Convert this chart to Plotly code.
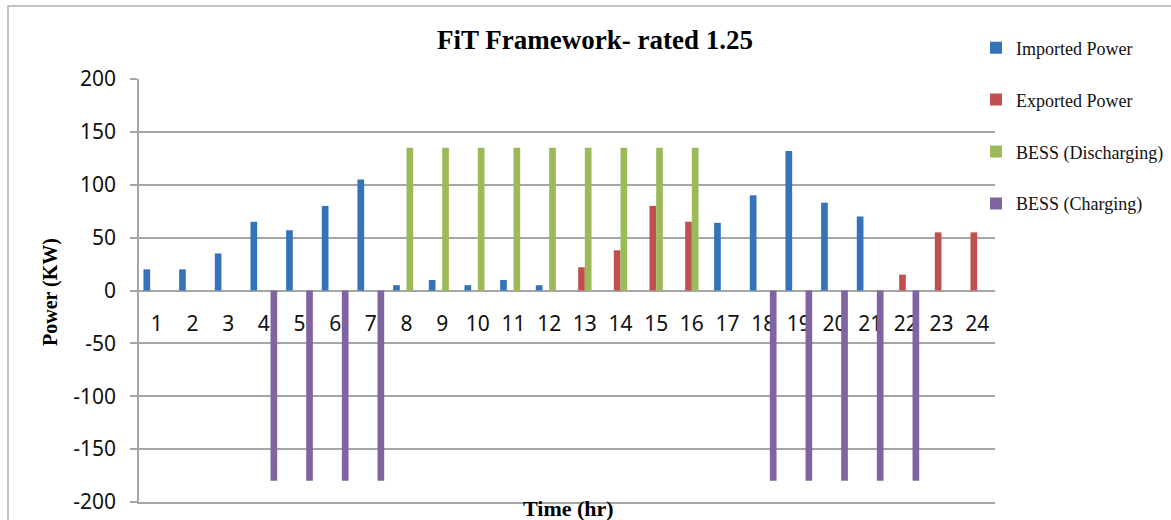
import plotly.graph_objects as go

# Hourly power flows under the FiT framework (rated 1.25)
hours = list(range(1, 25))
imported_power = [20, 20, 35, 65, 57, 80, 105, 5, 10, 5, 10, 5,
                  0, 0, 0, 0, 64, 90, 132, 83, 70, 0, 0, 0]
exported_power = [0, 0, 0, 0, 0, 0, 0, 0, 0, 0, 0, 0,
                  22, 38, 80, 65, 0, 0, 0, 0, 0, 15, 55, 55]
bess_discharging = [0, 0, 0, 0, 0, 0, 0, 135, 135, 135, 135, 135,
                    135, 135, 135, 135, 0, 0, 0, 0, 0, 0, 0, 0]
bess_charging = [0, 0, 0, -180, -180, -180, -180, 0, 0, 0, 0, 0,
                 0, 0, 0, 0, 0, -180, -180, -180, -180, -180, 0, 0]
y_ticks = [200, 150, 100, 50, 0, -50, -100, -150, -200]

series = [
    ("Imported Power", imported_power, "#3473BA"),
    ("Exported Power", exported_power, "#C0504D"),
    ("BESS (Discharging)", bess_discharging, "#9BBB59"),
    ("BESS (Charging)", bess_charging, "#8064A2"),
]

W, H = 1171, 520
ML, MR, MT, MB = 139, 176, 79, 18
PW, PH = W - ML - MR, H - MT - MB


def px(x):
    return (x - ML) / PW


def py(y):
    return (H - MB - y) / PH


fig = go.Figure()
for name, vals, color in series:
    fig.add_trace(go.Bar(
        x=hours, y=vals, name=name, legendgroup=name,
        marker=dict(color=color, line=dict(width=0)),
    ))

grid = "#A6A6A6"
serif = "Liberation Serif"
sans = "Noto Sans"

fig.update_layout(
    width=W, height=H,
    margin=dict(l=ML, r=MR, t=MT, b=MB, autoexpand=False),
    paper_bgcolor="white", plot_bgcolor="white",
    barmode="group", bargap=0.25, bargroupgap=0,
    showlegend=True,
    legend=dict(
        x=px(976), y=py(29.5), xanchor="left", yanchor="top",
        font=dict(family=serif, size=18, color="#111"),
        tracegroupgap=25.5, bgcolor="rgba(0,0,0,0)",
    ),
    xaxis=dict(
        range=[0.5, 24.5], tickmode="array", tickvals=hours,
        ticktext=[str(h) for h in hours],
        anchor="free", position=0.5, layer="below traces",
        showgrid=False, zeroline=False,
        showline=True, linecolor=grid, linewidth=1.5,
        ticks="", ticklabelstandoff=15,
        tickfont=dict(family=sans, size=21, color="#111"),
    ),
    # bottom frame line of the plot area (gridline at the range minimum)
    xaxis2=dict(
        overlaying="x", anchor="y", side="bottom",
        range=[0.5, 24.5], showticklabels=False, ticks="",
        showgrid=False, zeroline=False,
        showline=True, linecolor=grid, linewidth=1.5,
    ),
    yaxis=dict(
        range=[min(y_ticks), max(y_ticks)], tickmode="array",
        tickvals=y_ticks, ticktext=[str(v) for v in y_ticks],
        showgrid=True, gridcolor=grid, gridwidth=1.5,
        zeroline=False,
        showline=True, linecolor=grid, linewidth=1.5,
        ticks="outside", ticklen=7, tickcolor=grid, tickwidth=1.5,
        ticklabelstandoff=10,
        tickfont=dict(family=sans, size=21, color="#111"),
    ),
    shapes=[dict(
        type="rect", xref="paper", yref="paper",
        x0=px(8), y0=py(524), x1=px(1176), y1=py(6),
        line=dict(color="#B0B0B0", width=1.5), fillcolor="rgba(0,0,0,0)",
        layer="below",
    )],
    annotations=[
        dict(text="FiT Framework- rated 1.25", x=px(595), y=py(40),
             xref="paper", yref="paper", showarrow=False,
             xanchor="center", yanchor="middle",
             font=dict(family=serif, size=27, color="#000", weight="bold")),
        dict(text="Power (KW)", x=px(50), y=py(292),
             xref="paper", yref="paper", showarrow=False, textangle=-90,
             xanchor="center", yanchor="middle",
             font=dict(family=serif, size=20, color="#000", weight="bold")),
        dict(text="Time (hr)", x=px(568), y=py(508),
             xref="paper", yref="paper", showarrow=False,
             xanchor="center", yanchor="middle",
             font=dict(family=serif, size=22, color="#000", weight="bold")),
    ],
)

# invisible trace that activates the overlay axis drawing the bottom frame line
fig.add_trace(go.Scatter(x=[hours[0]], y=[0], xaxis="x2", mode="markers",
                         marker=dict(opacity=0), showlegend=False,
                         hoverinfo="skip"))

fig.write_html("out.html")
